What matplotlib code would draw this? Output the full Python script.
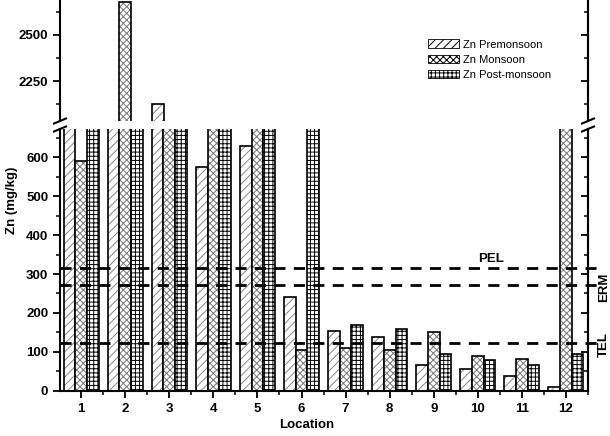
import matplotlib
matplotlib.use("Agg")
import matplotlib.pyplot as plt
import numpy as np
from matplotlib.patches import Patch
from matplotlib.lines import Line2D
from matplotlib.ticker import MultipleLocator

plt.rcParams["font.family"] = ["Liberation Sans", "DejaVu Sans"]
plt.rcParams["font.weight"] = "bold"
plt.rcParams["hatch.linewidth"] = 0.7

# --- data ---
locations = ["1", "2", "3", "4", "5", "6", "7", "8", "9", "10", "11", "12"]
zn_pre = [1200, 1300, 2128, 575, 630, 240, 153, 138, 65, 57, 37, 10]
zn_mon = [590, 2678, 1100, 1000, 1100, 105, 110, 105, 152, 90, 82, 1500]
zn_post = [1000, 1200, 1100, 1000, 1000, 1200, 170, 158, 95, 80, 65, 95]
series_names = ["Zn Premonsoon", "Zn Monsoon", "Zn Post-monsoon"]
guide_names = ["PEL", "ERM", "TEL"]
guide_values = [315, 271, 123]

W, H = 610, 436
fig = plt.figure(figsize=(W / 100, H / 100), dpi=100)

def fx(px):
    return px / W

def fy(py):
    return 1 - py / H

x_left, x_right = 60, 588
low_top, low_bot = 129, 390.7
up_top, up_bot = 0, 121

ax_lo = fig.add_axes([fx(x_left), fy(low_bot), fx(x_right - x_left), (low_bot - low_top) / H])
ax_up = fig.add_axes([fx(x_left), fy(up_bot), fx(x_right - x_left), (up_bot - up_top) / H])

x = np.arange(1, len(locations) + 1)
w = 0.265
hatches = ["////", "xxxxx", "++++"]
hcols = ["#888888", "#777777", "#000000"]
series = [zn_pre, zn_mon, zn_post]

for ax in (ax_lo, ax_up):
    for k, vals in enumerate(series):
        xs = x + (k - 1) * w
        ax.bar(xs, vals, width=w, color="white", edgecolor=hcols[k], hatch=hatches[k], linewidth=0)
        ax.bar(xs, vals, width=w, facecolor="none", edgecolor="black", linewidth=1.2)
    ax.set_xlim(0.52, 12.48)
    ax.spines["top"].set_visible(False)
    for s in ("left", "right", "bottom"):
        ax.spines[s].set_linewidth(1.5)

ax_lo.set_ylim(0, 673)
ax_up.set_ylim(2033, 2690)
ax_up.spines["bottom"].set_visible(False)
ax_up.set_xticks([])
ax_up.tick_params(axis="x", which="both", bottom=False, labelbottom=False)

ax_lo.yaxis.set_major_locator(MultipleLocator(100))
ax_lo.yaxis.set_minor_locator(MultipleLocator(50))
ax_up.yaxis.set_major_locator(MultipleLocator(250))
ax_up.yaxis.set_minor_locator(MultipleLocator(125))
ax_lo.set_xticks(x)
ax_lo.set_xticklabels(locations)
ax_lo.set_xticks(x + 0.5, minor=True)

for ax in (ax_lo, ax_up):
    ax.tick_params(axis="both", which="major", direction="out", length=5, width=1.3, labelsize=9.5)
    ax.tick_params(axis="both", which="minor", direction="out", length=3, width=1.1)
    # right spine ticks pointing inward
    axr = ax.twinx()
    axr.set_ylim(ax.get_ylim())
    axr.yaxis.set_major_locator(ax.yaxis.get_major_locator())
    axr.yaxis.set_minor_locator(ax.yaxis.get_minor_locator())
    axr.tick_params(axis="y", which="major", direction="in", length=5, width=1.3, labelright=False)
    axr.tick_params(axis="y", which="minor", direction="in", length=3, width=1.1)
    axr.spines["top"].set_visible(False)
    axr.spines["bottom"].set_visible(False)
    axr.spines["right"].set_linewidth(1.5)
    axr.spines["left"].set_visible(False)

# guideline values
for name, val in zip(guide_names, guide_values):
    ax_lo.plot([0, 1.025], [val, val], transform=ax_lo.get_yaxis_transform(),
               color="black", lw=2, ls=(0, (4, 3)), clip_on=False, zorder=5)

ax_lo.text(10.3, 322, "PEL", ha="center", va="bottom", fontsize=9.5, fontweight="bold")
ax_lo.text(1.03, 267, "ERM", transform=ax_lo.get_yaxis_transform(), rotation=90,
           ha="center", va="center", fontsize=9.5, fontweight="bold", clip_on=False)
ax_lo.text(1.03, 118, "TEL", transform=ax_lo.get_yaxis_transform(), rotation=90,
           ha="center", va="center", fontsize=9.5, fontweight="bold", clip_on=False)

# axis break marks
for xp in (x_left, x_right):
    for yp in (up_bot, low_top):
        fig.add_artist(Line2D([fx(xp - 6), fx(xp + 6)], [fy(yp + 2.5), fy(yp - 2.5)],
                              color="black", lw=1.5))

fig.text(fx(12), fy(200), "Zn (mg/kg)", rotation=90, ha="center", va="center",
         fontsize=9.5, fontweight="bold")
fig.text(fx(307), fy(425), "Location", ha="center", va="center",
         fontsize=9.5, fontweight="bold")

handles = [Patch(facecolor="white", edgecolor=hcols[k], hatch=hatches[k], lw=0) for k in range(3)]
leg = ax_up.legend(handles, series_names, loc="upper left", bbox_to_anchor=(0.687, 0.72),
                   frameon=False, borderpad=0, handlelength=2.8, handleheight=0.8,
                   handletextpad=0.35, labelspacing=0.45, prop={"weight": "normal", "size": 8})
for p in leg.get_patches():
    p.set_edgecolor("black")
    p.set_linewidth(0.6)

fig.savefig("out.png", dpi=100)
